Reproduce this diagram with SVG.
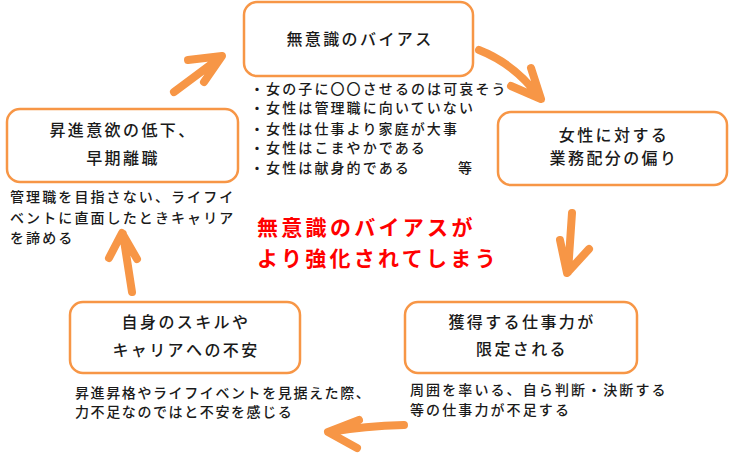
<svg xmlns="http://www.w3.org/2000/svg" width="730" height="467" viewBox="0 0 730 467">
<style>
.box{fill:#fff;stroke:#F79646;stroke-width:2.5}
.t{font-family:"Noto Sans CJK JP","Noto Sans",sans-serif;font-size:16px;font-weight:500;fill:#1a1a1a;text-anchor:middle;letter-spacing:2.4px}
.d{font-family:"Noto Sans CJK JP","Noto Sans",sans-serif;font-size:14px;font-weight:500;fill:#1a1a1a;letter-spacing:2.1px}
.r{font-family:"Noto Sans CJK JP","Noto Sans",sans-serif;font-size:21px;font-weight:bold;fill:#FF0000;letter-spacing:3.3px}
.a{fill:none;stroke:#F79646;stroke-width:8;stroke-linecap:round;stroke-linejoin:round}
</style>
<rect width="730" height="467" fill="#fff"/>
<g id="connectors">
<path class="a" d="M174,92 L221,57 M188,60 L222,56 L204,82"/>
<path class="a" d="M479,50 Q515,64 540,98 M531,68 L541,99 L511,86"/>
<path class="a" d="M572,213 L568,272 M560,240 L567,273 L589,249"/>
<path class="a" d="M404,425 Q365,426 329,432 M359,420 L328,432 L357,448"/>
<path class="a" d="M132,292 L123,234 M109,258 L122,233 L137,259"/>
</g>
<g id="bias">
<rect class="box" x="244" y="2" width="229" height="74" rx="13"/>
<text class="t" x="360" y="45">無意識のバイアス</text>
</g>
<g id="bias-list">
<text class="d" x="250" y="94">・女の子に〇〇させるのは可哀そう</text>
<text class="d" x="250" y="113">・女性は管理職に向いていない</text>
<text class="d" x="250" y="134">・女性は仕事より家庭が大事</text>
<text class="d" x="250" y="153">・女性はこまやかである</text>
<text class="d" x="250" y="173">・女性は献身的である</text>
<text class="d" x="458" y="173">等</text>
</g>
<g id="allocation">
<rect class="box" x="498" y="112" width="229" height="73" rx="13"/>
<text class="t" x="614" y="141">女性に対する</text>
<text class="t" x="614" y="164">業務配分の偏り</text>
</g>
<g id="limited">
<rect class="box" x="405" y="302" width="232" height="71" rx="13"/>
<text class="t" x="522" y="328">獲得する仕事力が</text>
<text class="t" x="522" y="355">限定される</text>
<text class="d" x="410" y="395">周囲を率いる、自ら判断・決断する</text>
<text class="d" x="410" y="415">等の仕事力が不足する</text>
</g>
<g id="anxiety">
<rect class="box" x="70" y="302" width="230" height="71" rx="13"/>
<text class="t" x="186" y="328">自身のスキルや</text>
<text class="t" x="186" y="356">キャリアへの不安</text>
<text class="d" x="75" y="398" style="letter-spacing:1.6px">昇進昇格やライフイベントを見据えた際、</text>
<text class="d" x="75" y="417" style="letter-spacing:1.6px">力不足なのではと不安を感じる</text>
</g>
<g id="resign">
<rect class="box" x="7" y="109" width="231" height="73" rx="13"/>
<text class="t" x="123" y="136">昇進意欲の低下、</text>
<text class="t" x="123" y="164">早期離職</text>
<text class="d" x="10" y="202">管理職を目指さない、ライフイ</text>
<text class="d" x="10" y="223">ベントに直面したときキャリア</text>
<text class="d" x="10" y="243">を諦める</text>
</g>
<g id="center-message">
<text class="r" x="257" y="235">無意識のバイアスが</text>
<text class="r" x="257" y="266">より強化されてしまう</text>
</g>
</svg>
